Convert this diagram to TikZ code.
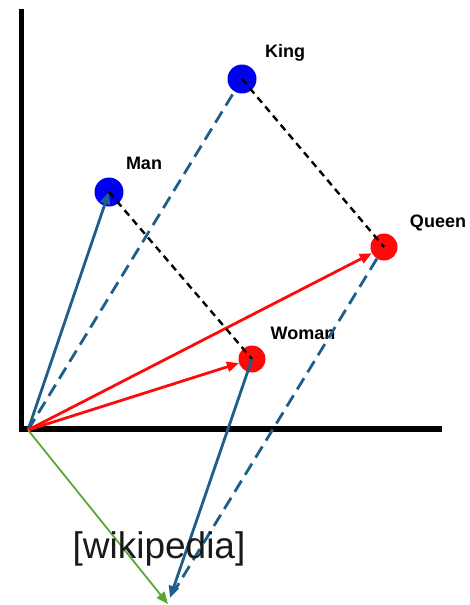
\documentclass[tikz,border=0pt]{standalone}
\usepackage{fontspec}
\setmainfont{Liberation Sans}
\usetikzlibrary{arrows.meta}
\definecolor{vecblue}{HTML}{1D5F88}
\definecolor{vecred}{HTML}{FF0A0A}
\definecolor{dotblue}{HTML}{0000F0}
\definecolor{diffgreen}{HTML}{5AA832}

\begin{document}
\begin{tikzpicture}[x=1pt, y=-1pt, >={Triangle[length=12pt,width=10pt]},
    word/.style={circle, inner sep=0pt, minimum size=29pt},
    wordlabel/.style={font=\bfseries\fontsize{18}{20}\selectfont},
    vec/.style={->, line width=2.8pt},
    vecdash/.style={line width=2.8pt, dash pattern=on 13pt off 7pt},
    link/.style={black, line width=2.4pt, dash pattern=on 7pt off 5pt}]
  \useasboundingbox (0,0) rectangle (469,605);
  % axes
  \draw[line width=5.5pt] (21.5,9) |- (442,429);
  \coordinate (o) at (28,430);
  \coordinate (p) at (170,598);
  \coordinate (g) at (168,604);
  % words
  \node[word, fill=dotblue] (man) at (109,192) {};
  \node[word, fill=dotblue] (king) at (242,79) {};
  \node[word, fill=vecred, minimum size=27pt] (queen) at (384,247) {};
  \node[word, fill=vecred, minimum size=27pt] (woman) at (252,359) {};
  \node[wordlabel] (manlabel) at (144,163) {Man};
  \node[wordlabel] (kinglabel) at (285,53) {King};
  \node[wordlabel] (queenlabel) at (438,223) {Queen};
  \node[wordlabel] (womanlabel) at (303,333) {Woman};
  % vectors
  \draw[vecdash, vecblue] (o) -- (king);
  \draw[vec, vecblue] (o) -- (man.center);
  \draw[vec, vecred] (o) -- (queen);
  \draw[vec, vecred] (o) -- (woman);
  \draw[link] (man.center) -- (woman.center);
  \draw[link] (king.center) -- (queen.center);
  \draw[vecdash, vecblue, shorten >=8pt] (queen) -- (p);
  \draw[vec, vecblue] (woman.center) -- (p);
  \draw[->, diffgreen, line width=1.8pt] (o) -- (g);
  \node[text=black!90, font=\fontsize{37}{41}\selectfont] (source) at (159,549) {[wikipedia]};
\end{tikzpicture}
\end{document}
